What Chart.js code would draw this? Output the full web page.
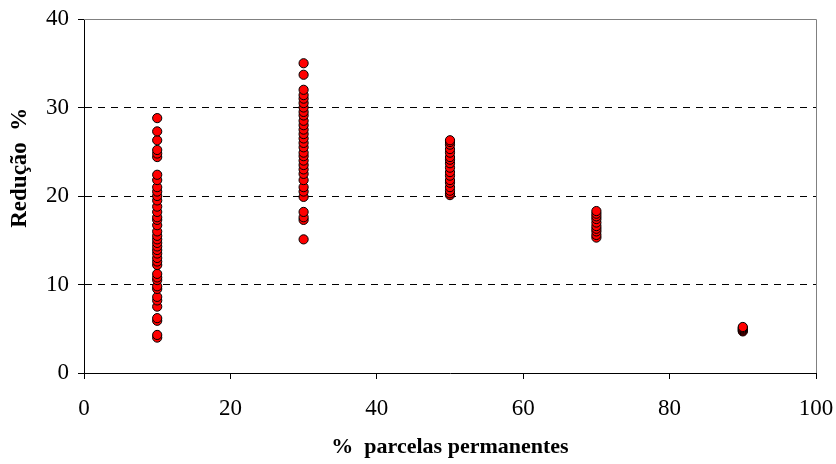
<!DOCTYPE html>
<html lang="pt">
<head>
    <meta charset="UTF-8">
    <title>Redução % vs % parcelas permanentes</title>
    <script src="https://cdn.jsdelivr.net/npm/chart.js"></script>
    <style>
        html, body { margin: 0; padding: 0; background: #fff; }
        #wrap { width: 836px; height: 464px; }
    </style>
</head>
<body>
<div id="wrap"><canvas id="reducaoChart" width="836" height="464"></canvas></div>

<script>
    // % parcelas permanentes (x) and the reductions read for each level
    const xLevels = [10, 30, 50, 70, 90];
    const red10 = [4.0, 4.3, 5.9, 6.2, 7.5, 8.2, 8.6, 9.5, 9.8, 10.5, 10.8, 11.2, 12.2, 12.6, 13.0,
                   13.5, 13.9, 14.3, 14.7, 15.1, 15.5, 16.0, 16.7, 17.3, 17.6, 18.2, 18.8, 19.5,
                   20.0, 20.5, 21.0, 21.8, 22.4, 24.4, 24.8, 25.2, 26.3, 27.3, 28.8];
    const red30 = [15.1, 17.3, 17.6, 18.2, 19.9, 20.5, 21.0, 21.8, 22.5, 23.0, 23.5, 24.0, 24.5,
                   24.9, 25.5, 26.0, 26.5, 27.0, 27.5, 28.0, 28.5, 29.1, 29.5, 30.0, 30.5, 31.0,
                   31.4, 32.0, 33.7, 35.0];
    const red50 = [20.1, 20.3, 20.6, 21.0, 21.5, 21.8, 22.3, 22.7, 23.2, 23.7, 24.1, 24.4, 24.9,
                   25.3, 25.8, 26.1, 26.3];
    const red70 = [15.3, 15.6, 16.0, 16.3, 16.6, 17.0, 17.4, 17.7, 18.0, 18.3];
    const red90 = [4.7, 4.8, 4.9, 5.0, 5.1, 5.2];
    const xTicks = [0, 20, 40, 60, 80, 100];
    const yTicks = [0, 10, 20, 30, 40];
    const xTitle = '%  parcelas permanentes';
    const yTitle = 'Redução  %';

    const groups = [red10, red30, red50, red70, red90];
    const points = [];
    groups.forEach((vals, i) => {
        vals.forEach(v => points.push({ x: xLevels[i], y: v }));
    });

    const serif = "'Liberation Serif', 'Times New Roman', serif";

    // gray frame on the top and right of the plot area (like the Excel plot border)
    const frame = {
        id: 'frame',
        beforeDatasetsDraw(chart) {
            const { ctx, chartArea: a } = chart;
            ctx.save();
            ctx.strokeStyle = '#808080';
            ctx.lineWidth = 1;
            ctx.beginPath();
            ctx.moveTo(a.left, a.top + 0.5);
            ctx.lineTo(a.right + 0.5, a.top + 0.5);
            ctx.lineTo(a.right + 0.5, a.bottom);
            ctx.stroke();
            ctx.restore();
        }
    };

    // y title sits a bit above the middle of the plot in the original
    const yTitlePlugin = {
        id: 'yTitle',
        afterDraw(chart) {
            const { ctx, chartArea: a } = chart;
            ctx.save();
            ctx.translate(20, a.top + a.height * 0.42);
            ctx.rotate(-Math.PI / 2);
            ctx.font = 'bold 23px ' + serif;
            ctx.fillStyle = '#000';
            ctx.textAlign = 'center';
            ctx.textBaseline = 'middle';
            ctx.fillText(yTitle, 0, 0);
            ctx.restore();
        }
    };

    const chartConfig = {
        type: 'scatter',
        data: {
            datasets: [{
                label: 'Redução %',
                data: points,
                backgroundColor: '#ff0000',
                borderColor: '#000000',
                borderWidth: 1,
                pointRadius: 4.6,
                pointHoverRadius: 4.6
            }]
        },
        options: {
            responsive: false,
            animation: false,
            layout: { padding: { top: 19, right: 20, bottom: 0, left: 0 } },
            plugins: {
                legend: { display: false },
                tooltip: { enabled: false }
            },
            scales: {
                x: {
                    type: 'linear',
                    min: 0,
                    max: 100,
                    afterBuildTicks: s => { s.ticks = xTicks.map(v => ({ value: v })); },
                    afterFit: s => { s.height = 91; s.paddingLeft = 0; s.paddingRight = 0; },
                    grid: {
                        drawOnChartArea: false,
                        drawTicks: true,
                        tickLength: 6,
                        tickColor: '#000'
                    },
                    border: { display: true, color: '#000', width: 1 },
                    ticks: {
                        color: '#000',
                        padding: 16,
                        maxRotation: 0,
                        font: { family: serif, size: 23 }
                    },
                    title: {
                        display: true,
                        text: xTitle,
                        color: '#000',
                        padding: { top: 3, bottom: 3 },
                        font: { family: serif, size: 22, weight: 'bold' }
                    }
                },
                y: {
                    min: 0,
                    max: 40,
                    afterBuildTicks: s => { s.ticks = yTicks.map(v => ({ value: v })); },
                    afterFit: s => { s.width = 84; s.paddingTop = 0; s.paddingBottom = 0; },
                    grid: {
                        color: c => (c.tick && (c.tick.value === 0 || c.tick.value === 40)) ? 'rgba(0,0,0,0)' : '#000',
                        lineWidth: 1,
                        drawTicks: true,
                        tickLength: 6,
                        tickColor: '#000'
                    },
                    border: { display: true, color: '#000', width: 1, dash: [7, 6] },
                    ticks: {
                        color: '#000',
                        padding: 9,
                        font: { family: serif, size: 23 }
                    },
                    title: { display: false }
                }
            }
        },
        plugins: [frame, yTitlePlugin]
    };

    const reducaoChart = new Chart(document.getElementById('reducaoChart').getContext('2d'), chartConfig);
</script>
</body>
</html>
